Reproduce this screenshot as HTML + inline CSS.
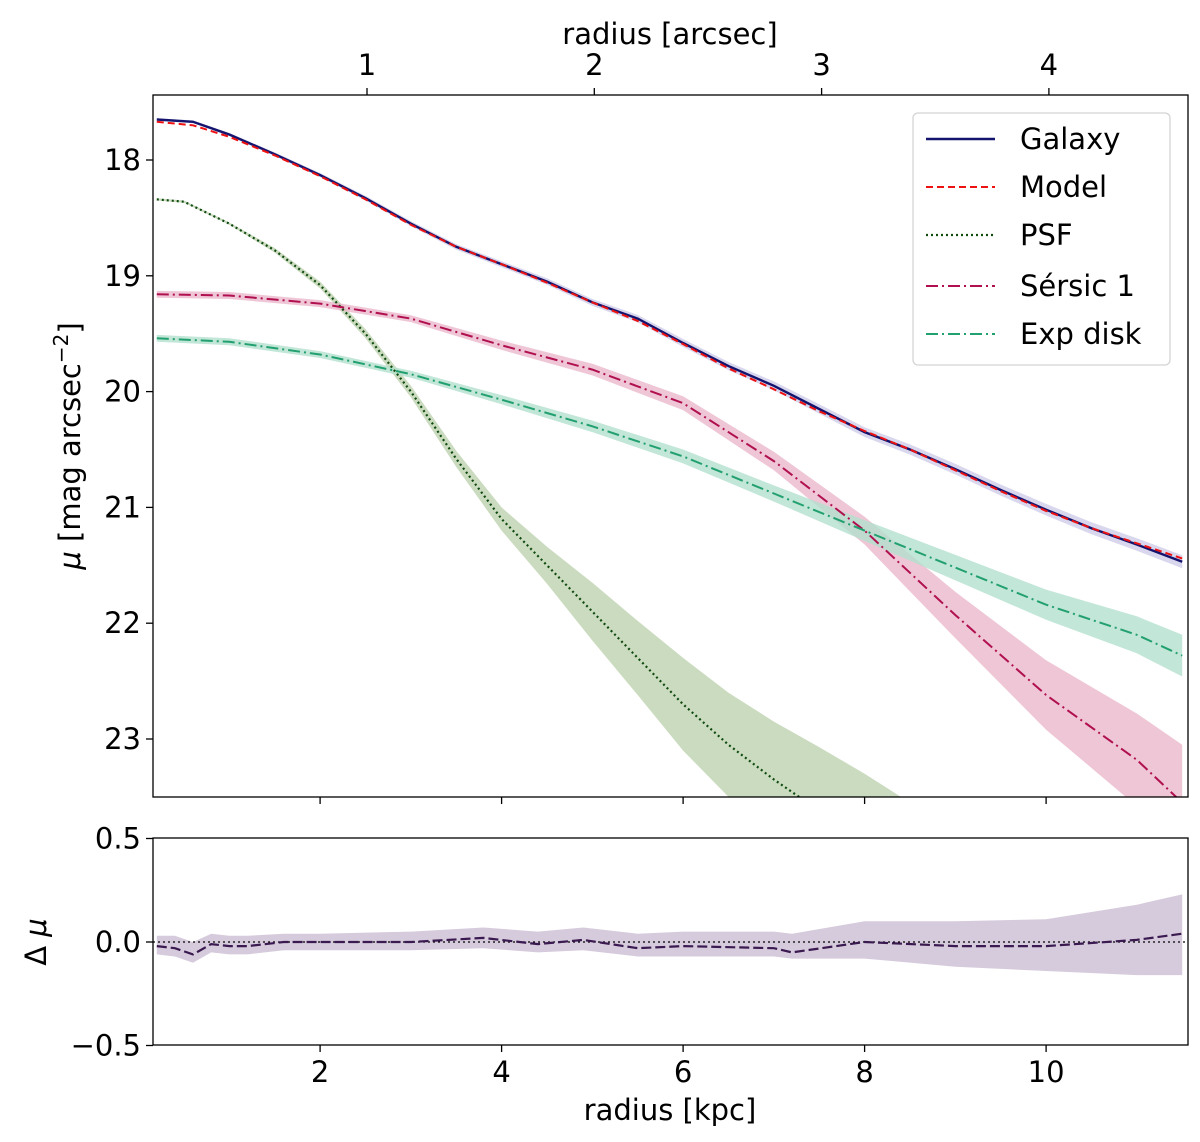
<!DOCTYPE html>
<html><head><meta charset="utf-8">
<style>
html,body{margin:0;padding:0;background:#fff;}
svg{display:block;font-family:"DejaVu Sans","Liberation Sans",sans-serif;}
</style></head>
<body>
<svg id="chart" width="1200" height="1142" viewBox="0 0 1200 1142" xmlns="http://www.w3.org/2000/svg">
<defs>
<clipPath id="clipTop"><rect x="153" y="95" width="1035" height="702"/></clipPath>
<clipPath id="clipBot"><rect x="153" y="838" width="1035" height="207"/></clipPath>
</defs>
<g id="top-bands" clip-path="url(#clipTop)"></g>
<g id="top-lines" clip-path="url(#clipTop)"></g>
<g id="bot-bands" clip-path="url(#clipBot)"></g>
<g id="bot-lines" clip-path="url(#clipBot)"></g>
<g id="axes"></g>
</svg>
<script>
// ---- data ----
const radiusKpc = [0.2,0.6,1,1.5,2,2.5,3,3.5,4,4.5,5,5.5,6,6.5,7,7.5,8,8.5,9,9.5,10,10.5,11,11.5];
const galaxyMu = [17.65,17.67,17.78,17.95,18.13,18.33,18.55,18.75,18.9,19.05,19.23,19.37,19.58,19.78,19.95,20.15,20.35,20.5,20.67,20.85,21.02,21.18,21.32,21.47];
const modelMu  = [17.67,17.7,17.8,17.96,18.14,18.34,18.56,18.75,18.9,19.06,19.23,19.39,19.59,19.8,19.98,20.17,20.34,20.5,20.68,20.86,21.03,21.18,21.31,21.44];
const psfRadius = [0.2,0.5,1,1.5,2,2.5,3,3.5,4,4.5,5,5.5,6,6.5,7,7.5,8,8.5];
const psfMu     = [18.34,18.36,18.55,18.78,19.08,19.5,20.0,20.58,21.1,21.5,21.9,22.3,22.7,23.05,23.35,23.62,23.9,24.2];
const psfErr    = [0.01,0.01,0.01,0.02,0.03,0.04,0.05,0.07,0.1,0.16,0.25,0.32,0.4,0.45,0.5,0.55,0.6,0.65];
const sersicRadius = [0.2,1,2,3,4,5,6,7,8,9,10,11,11.5];
const sersicMu  = [19.16,19.17,19.24,19.37,19.6,19.81,20.1,20.6,21.2,21.93,22.62,23.18,23.55];
const sersicErr = [0.03,0.03,0.03,0.03,0.04,0.05,0.06,0.08,0.12,0.2,0.3,0.4,0.5];
const expRadius = [0.2,1,2,3,4,5,6,7,8,9,10,11,11.5];
const expMu     = [19.54,19.57,19.68,19.85,20.07,20.3,20.56,20.88,21.2,21.52,21.84,22.1,22.28];
const expErr    = [0.03,0.03,0.03,0.03,0.04,0.05,0.06,0.07,0.09,0.11,0.13,0.16,0.18];
const residRadius = [0.2,0.4,0.6,0.8,1.0,1.2,1.6,2,3,3.8,4.4,4.9,5.5,6,7,7.2,8,9,10,11,11.5];
const residVals   = [-0.02,-0.03,-0.06,-0.01,-0.02,-0.02,0.0,0.0,0.0,0.02,-0.01,0.01,-0.03,-0.02,-0.03,-0.05,0.0,-0.02,-0.02,0.01,0.04];
const residHi     = [0.03,0.03,0.0,0.04,0.03,0.03,0.04,0.04,0.05,0.07,0.05,0.07,0.04,0.05,0.05,0.04,0.1,0.1,0.11,0.18,0.23];
const residLo     = [-0.06,-0.07,-0.1,-0.05,-0.06,-0.06,-0.04,-0.04,-0.04,-0.03,-0.05,-0.04,-0.07,-0.07,-0.07,-0.08,-0.08,-0.12,-0.14,-0.16,-0.16];
const xTicks = [2,4,6,8,10];
const arcTicks = [1,2,3,4];
const yTicks = [18,19,20,21,22,23];
const rTicks = [0.5,0.0,-0.5];
const rTickLabels = ["0.5","0.0","\u22120.5"];

// ---- axes functions ----
const X = k => 138.6 + k*90.75;
const XA = a => 139.7 + a*227.3;
const Y = m => 160 + (m-18)*115.8;
const YR = v => 942 - v*207;
const NS="http://www.w3.org/2000/svg";
function mk(tag, attrs, parent){const e=document.createElementNS(NS,tag);for(const k in attrs)e.setAttribute(k,attrs[k]);parent.appendChild(e);return e;}
const gTB=document.getElementById('top-bands'),gTL=document.getElementById('top-lines'),
gBB=document.getElementById('bot-bands'),gBL=document.getElementById('bot-lines'),gA=document.getElementById('axes');
function linePath(xs,ys,fy){return xs.map((x,i)=>(i?'L':'M')+X(x).toFixed(1)+','+fy(ys[i]).toFixed(1)).join(' ');}
function bandPath(xs,lo,hi,fy){let d=xs.map((x,i)=>(i?'L':'M')+X(x).toFixed(1)+','+fy(hi[i]).toFixed(1)).join(' ');
 for(let i=xs.length-1;i>=0;i--)d+=' L'+X(xs[i]).toFixed(1)+','+fy(lo[i]).toFixed(1);return d+' Z';}

// bands
let b;
b=mk('path',{d:bandPath(psfRadius,psfMu.map((m,i)=>m-psfErr[i]),psfMu.map((m,i)=>m+psfErr[i]),Y),fill:'#b9cfa9',opacity:'0.75'},gTB);

b=mk('path',{d:bandPath(sersicRadius,sersicMu.map((m,i)=>m-sersicErr[i]),sersicMu.map((m,i)=>m+sersicErr[i]),Y),fill:'#eab3c8',opacity:'0.75'},gTB);

b=mk('path',{d:bandPath(expRadius,expMu.map((m,i)=>m-expErr[i]),expMu.map((m,i)=>m+expErr[i]),Y),fill:'#b3e0cd',opacity:'0.8'},gTB);

b=mk('path',{d:bandPath(radiusKpc,galaxyMu.map((m,i)=>m-0.01-i*0.002),galaxyMu.map((m,i)=>m+0.01+i*0.002),Y),fill:'#c9c6e6',opacity:'0.7'},gTB);


// lines
let l;
l=mk('path',{d:linePath(psfRadius,psfMu,Y),fill:'none',stroke:'#0f4a0f','stroke-width':2.2,'stroke-dasharray':'2 3'},gTL);

l=mk('path',{d:linePath(sersicRadius,sersicMu,Y),fill:'none',stroke:'#b0104f','stroke-width':2,'stroke-dasharray':'12 4 2 4'},gTL);

l=mk('path',{d:linePath(expRadius,expMu,Y),fill:'none',stroke:'#22a070','stroke-width':2,'stroke-dasharray':'12 4 2 4'},gTL);

l=mk('path',{d:linePath(radiusKpc,galaxyMu,Y),fill:'none',stroke:'#14146e','stroke-width':2.4},gTL);

l=mk('path',{d:linePath(radiusKpc,modelMu,Y),fill:'none',stroke:'#ee1111','stroke-width':2,'stroke-dasharray':'7 4'},gTL);


// residual panel
b=mk('path',{d:bandPath(residRadius,residLo,residHi,YR),fill:'#d6cbdc'},gBB);

l=mk('line',{x1:153,x2:1188,y1:YR(0),y2:YR(0),stroke:'#000','stroke-width':1.3,'stroke-dasharray':'2 3'},gBL);

l=mk('path',{d:linePath(residRadius,residVals,YR),fill:'none',stroke:'#3a1a50','stroke-width':2.2,'stroke-dasharray':'10 4'},gBL);


// frames
let f=mk('rect',{x:153,y:95,width:1035,height:702,fill:'none',stroke:'#000','stroke-width':1.3},gA);

f=mk('rect',{x:153,y:838,width:1035,height:207,fill:'none',stroke:'#000','stroke-width':1.3},gA);


function txt(s,attrs,name){const t=mk('text',Object.assign({'font-size':29,fill:'#000'},attrs),gA);t.textContent=s;
 return t;}

xTicks.forEach(v=>{
 mk('line',{x1:X(v),x2:X(v),y1:797,y2:804,stroke:'#000','stroke-width':1.3},gA);
 mk('line',{x1:X(v),x2:X(v),y1:1045,y2:1052,stroke:'#000','stroke-width':1.3},gA);
 txt(String(v),{x:X(v),y:1082,'text-anchor':'middle'},'x-tick-label');
});
arcTicks.forEach(v=>{
 mk('line',{x1:XA(v),x2:XA(v),y1:95,y2:88,stroke:'#000','stroke-width':1.3},gA);
 txt(String(v),{x:XA(v),y:75,'text-anchor':'middle'},'top-x-tick-label');
});
yTicks.forEach(v=>{
 mk('line',{x1:146,x2:153,y1:Y(v),y2:Y(v),stroke:'#000','stroke-width':1.3},gA);
 txt(String(v),{x:141,y:Y(v)+10,'text-anchor':'end'},'y-tick-label');
});
rTicks.forEach((v,i)=>{
 mk('line',{x1:146,x2:153,y1:YR(v),y2:YR(v),stroke:'#000','stroke-width':1.3},gA);
 txt(rTickLabels[i],{x:141,y:YR(v)+10,'text-anchor':'end'},'residual-tick-label');
});
txt('radius [kpc]',{x:670,y:1120,'text-anchor':'middle'},'x-axis-title');
txt('radius [arcsec]',{x:670,y:44,'text-anchor':'middle'},'top-x-axis-title');
const yt=txt('',{x:0,y:0,transform:'translate(80,446) rotate(-90)','text-anchor':'middle'},'y-axis-title');
yt.innerHTML='<tspan font-style="italic">μ</tspan> [mag arcsec<tspan baseline-shift="super" font-size="20">−2</tspan>]';
const rt=txt('',{x:0,y:0,transform:'translate(46,942) rotate(-90)','text-anchor':'middle'},'residual-axis-title');
rt.innerHTML='Δ <tspan font-style="italic">μ</tspan>';

// legend
const leg=mk('g',{},gA);
mk('rect',{x:913,y:113,width:257,height:252,rx:5,fill:'#fff',stroke:'#d0d0d0','stroke-width':1.3,opacity:0.9},leg);
const legNames=['Galaxy','Model','PSF','Sérsic 1','Exp disk'];
const legStyles=[{stroke:'#14146e','stroke-width':2.4},{stroke:'#ee1111','stroke-width':2,'stroke-dasharray':'7 4'},
 {stroke:'#0f4a0f','stroke-width':2.2,'stroke-dasharray':'2 3'},{stroke:'#b0104f','stroke-width':2,'stroke-dasharray':'12 4 2 4'},
 {stroke:'#22a070','stroke-width':2,'stroke-dasharray':'12 4 2 4'}];
const legY=[139,187,235,286,334];
legNames.forEach((n,i)=>{
 const e=mk('g',{},leg);
 mk('line',Object.assign({x1:926,x2:995,y1:legY[i],y2:legY[i]},legStyles[i]),e);
 const t=mk('text',{x:1020,y:legY[i]+10,'font-size':29,fill:'#000'},e);t.textContent=n;
});
</script>
</body></html>
